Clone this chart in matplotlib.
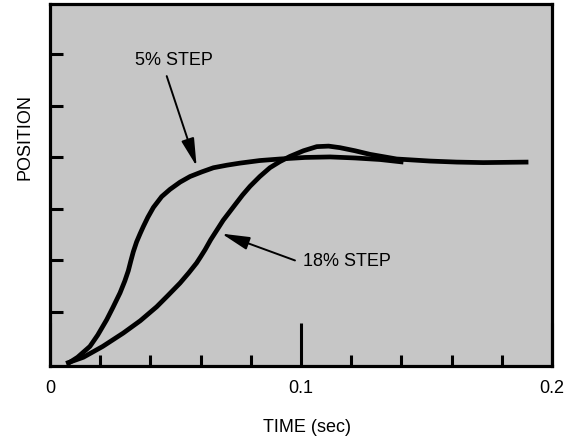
import matplotlib
matplotlib.use("Agg")
import matplotlib.pyplot as plt

plt.rcParams['font.family'] = ['Liberation Sans', 'DejaVu Sans']

# curves (time in sec, position in tick units)
t_5 = [0.0072, 0.0110, 0.0159, 0.0190, 0.0226, 0.0250, 0.0279, 0.0298, 0.0312,
       0.0322, 0.0332, 0.0345, 0.0359, 0.0372, 0.0390, 0.0412, 0.0445, 0.0478,
       0.0518, 0.0558, 0.0605, 0.0651, 0.0705, 0.0757, 0.0836, 0.0916, 0.1016,
       0.1116, 0.1215, 0.1315, 0.1408]
pos_5 = [0.00, 0.12, 0.33, 0.55, 0.85, 1.08, 1.37, 1.60, 1.80,
         1.99, 2.17, 2.36, 2.52, 2.66, 2.84, 3.03, 3.24, 3.38,
         3.52, 3.63, 3.72, 3.80, 3.85, 3.89, 3.94, 3.97, 4.00,
         4.01, 3.99, 3.96, 3.91]

t_18 = [0.0064, 0.0133, 0.0210, 0.0292, 0.0360, 0.0425, 0.0470, 0.0518, 0.0553,
        0.0584, 0.0600, 0.0618, 0.0640, 0.0665, 0.0690, 0.0712, 0.0737, 0.0767,
        0.0797, 0.0836, 0.0876, 0.0916, 0.0956, 0.1010, 0.1063, 0.1110, 0.1155,
        0.1215, 0.1275, 0.1381, 0.1514, 0.1620, 0.1726, 0.1906]
pos_18 = [0.00, 0.12, 0.33, 0.59, 0.83, 1.10, 1.32, 1.56, 1.76,
          1.95, 2.07, 2.21, 2.40, 2.59, 2.78, 2.92, 3.08, 3.27,
          3.44, 3.63, 3.80, 3.92, 4.02, 4.13, 4.21, 4.22, 4.19,
          4.13, 4.06, 3.97, 3.93, 3.91, 3.90, 3.91]

x_ticks = [0, 0.1, 0.2]
x_ticklabels = ['0', '0.1', '0.2']
x_minor = [0.02, 0.04, 0.06, 0.08, 0.12, 0.14, 0.16, 0.18]
y_ticks = [1, 2, 3, 4, 5, 6]

fig = plt.figure(figsize=(5.64, 4.38), dpi=100)
ax = fig.add_axes([50 / 564, 72 / 438, 502 / 564, 362 / 438])
ax.set_facecolor('#c6c6c6')

ax.plot(t_5, pos_5, color='black', lw=3.4, solid_capstyle='butt', solid_joinstyle='round')
ax.plot(t_18, pos_18, color='black', lw=3.4, solid_capstyle='butt', solid_joinstyle='round')

ax.set_xlim(0, 0.2)
ax.set_ylim(-0.05, 6.98)

for s in ax.spines.values():
    s.set_linewidth(2.3)

ax.set_xticks(x_ticks)
ax.set_xticklabels(x_ticklabels, fontsize=13)
ax.set_xticks(x_minor, minor=True)
ax.tick_params(axis='x', which='major', direction='in', length=31, width=2.2, pad=10)
ax.tick_params(axis='x', which='minor', direction='in', length=8, width=2.2)
ax.set_yticks(y_ticks)
ax.set_yticklabels([])
ax.tick_params(axis='y', direction='in', length=9.5, width=2.2)

arrow = dict(arrowstyle='-|>,head_length=1.7,head_width=0.4', color='black', lw=1.4,
             shrinkA=0, shrinkB=0)

ax.text(0.0494, 5.885, '5% STEP', fontsize=13, ha='center', va='center')
ax.annotate('', xy=(0.0584, 3.83), xytext=(0.0465, 5.58), arrowprops=arrow)

ax.text(0.1185, 1.98, '18% STEP', fontsize=13, ha='center', va='center')
ax.annotate('', xy=(0.0684, 2.52), xytext=(0.0976, 2.0), arrowprops=arrow)

fig.text(25 / 564, 1 - 137 / 438, 'POSITION', rotation=90, ha='center', va='center', fontsize=13)
fig.text(307 / 564, 1 - 427 / 438, 'TIME (sec)', ha='center', va='center', fontsize=13)

fig.savefig('out.png', dpi=100)
